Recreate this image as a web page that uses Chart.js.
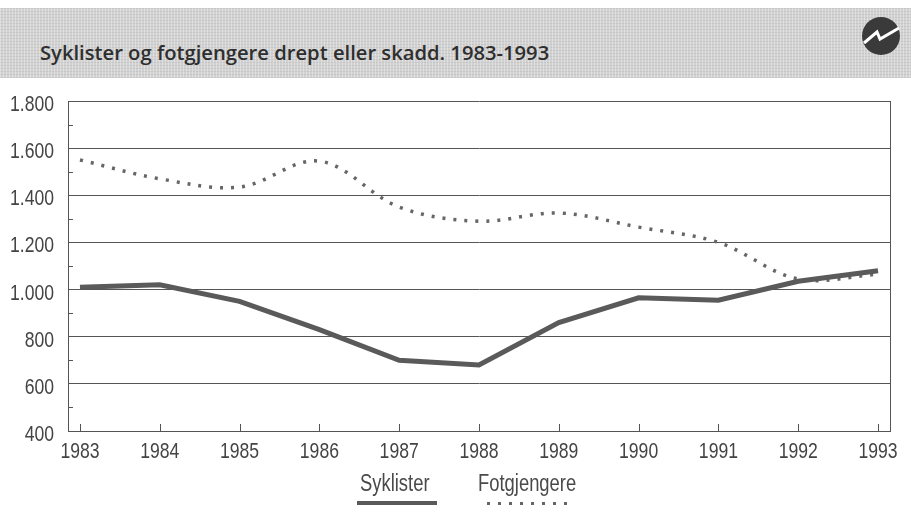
<!DOCTYPE html>
<html>
<head>
<meta charset="utf-8">
<script src="https://cdn.jsdelivr.net/npm/chart.js@4/dist/chart.umd.min.js"></script>
<style>
  html, body { margin: 0; padding: 0; background: #fff; }
  #wrap { position: relative; width: 911px; height: 520px; overflow: hidden; }
  #header {
    position: absolute; left: 0; top: 8px; width: 911px; height: 70px;
    background-color: #d2d2d2;
    background-image: repeating-linear-gradient(90deg, rgba(255,255,255,0.3) 0 1px, transparent 1px 3px),
                      repeating-linear-gradient(0deg, rgba(0,0,0,0.06) 0 1px, transparent 1px 3px);
  }
  #title {
    position: absolute; left: 40px; top: 42px; line-height: 20px; white-space: nowrap;
    font-family: "Open Sans", sans-serif; font-weight: 600; font-size: 20.2px; color: #2e2e2e;
  }
  #logo { position: absolute; left: 862px; top: 17px; }
  #chart { position: absolute; left: 0; top: 0; }
  .leg { position: absolute; top: 472px; line-height: 23px; white-space: nowrap;
         font-family: "Liberation Sans", sans-serif; font-size: 23px; color: #4a4a4a;
         transform: scaleX(0.8); transform-origin: left top; }
  #legA { left: 360px; }
  #legB { left: 478px; }
  #barA { position: absolute; left: 357px; top: 501px; width: 80px; height: 4px; background: #5a5a5a; }
  #barB { position: absolute; left: 487px; top: 502px; width: 80px; height: 3px;
          background-image: repeating-linear-gradient(90deg, #666 0 3px, transparent 3px 11px); }
</style>
</head>
<body>
<div id="wrap">
  <div id="header"></div>
  <div id="title">Syklister og fotgjengere drept eller skadd. 1983-1993</div>
  <svg id="logo" width="38" height="38" viewBox="0 0 38 38">
    <circle cx="19" cy="19" r="19" fill="#3a3a3a"/>
    <polyline points="2,26 15,15 18,22 37,11" fill="none" stroke="#fff" stroke-width="3"/>
  </svg>
  <canvas id="chart" width="911" height="520"></canvas>
  <div class="leg" id="legA">Syklister</div>
  <div id="barA"></div>
  <div class="leg" id="legB">Fotgjengere</div>
  <div id="barB"></div>
</div>
<script>
const years = [1983, 1984, 1985, 1986, 1987, 1988, 1989, 1990, 1991, 1992, 1993];
const syklister = [1010, 1020, 950, 830, 700, 680, 860, 965, 955, 1035, 1080];
const fotgjengere = [1550, 1470, 1435, 1545, 1350, 1290, 1325, 1265, 1200, 1045, 1065];
const yTicks = [400, 600, 800, 1000, 1200, 1400, 1600, 1800];

function fmt(v) {
    if (v < 1000) return String(v);
    return Math.floor(v / 1000) + '.' + String(v % 1000).padStart(3, '0');
}

// condensed tick labels, inner tick marks and right frame line
const frameTicks = {
    id: 'frameTicks',
    afterDraw(chart) {
        const ctx = chart.ctx;
        const a = chart.chartArea;
        const x = chart.scales.x, y = chart.scales.y;
        ctx.save();
        ctx.strokeStyle = '#555';
        ctx.lineWidth = 1;
        ctx.beginPath();
        years.forEach(yr => {
            const px = Math.round(x.getPixelForValue(yr)) + 0.5;
            ctx.moveTo(px, a.bottom);
            ctx.lineTo(px, a.bottom - 7);
        });
        for (let v = 500; v < 1800; v += 200) {
            const py = Math.round(y.getPixelForValue(v)) + 0.5;
            ctx.moveTo(a.left, py);
            ctx.lineTo(a.left + 5, py);
        }
        ctx.moveTo(Math.round(a.right) + 0.5, a.top);
        ctx.lineTo(Math.round(a.right) + 0.5, a.bottom);
        ctx.stroke();

        const sx = 0.8;
        ctx.font = '22px "Liberation Sans", sans-serif';
        ctx.fillStyle = '#444';
        ctx.textBaseline = 'alphabetic';
        ctx.textAlign = 'center';
        x.ticks.forEach(t => {
            const px = x.getPixelForValue(t.value);
            ctx.save();
            ctx.translate(px, a.bottom + 27);
            ctx.scale(sx, 1);
            ctx.fillText(String(t.value), 0, 0);
            ctx.restore();
        });
        ctx.textAlign = 'right';
        y.ticks.forEach(t => {
            const py = y.getPixelForValue(t.value);
            ctx.save();
            ctx.translate(a.left - 14, py + 10);
            ctx.scale(sx, 1);
            ctx.fillText(fmt(t.value), 0, 0);
            ctx.restore();
        });
        ctx.restore();
    }
};

new Chart(document.getElementById('chart'), {
    type: 'line',
    data: {
        datasets: [{
            label: 'Syklister',
            data: years.map((yr, i) => ({ x: yr, y: syklister[i] })),
            borderColor: '#5a5a5a',
            borderWidth: 5,
            pointRadius: 0,
            tension: 0
        }, {
            label: 'Fotgjengere',
            data: years.map((yr, i) => ({ x: yr, y: fotgjengere[i] })),
            borderColor: '#666',
            borderWidth: 3.5,
            borderDash: [3, 8],
            pointRadius: 0,
            tension: 0.35
        }]
    },
    options: {
        responsive: false,
        animation: false,
        layout: { padding: { top: 101, right: 21, left: 0, bottom: 0 } },
        plugins: { legend: { display: false }, tooltip: { enabled: false } },
        scales: {
            x: {
                type: 'linear',
                min: 1982.85,
                max: 1993.15,
                afterFit: s => { s.height = 89; },
                afterBuildTicks: s => { s.ticks = years.map(v => ({ value: v })); },
                grid: { display: false },
                border: { color: '#555', width: 1 },
                ticks: { display: false }
            },
            y: {
                min: 400,
                max: 1800,
                afterFit: s => { s.width = 68; },
                afterBuildTicks: s => { s.ticks = yTicks.map(v => ({ value: v })); },
                grid: { color: '#555', lineWidth: 1, drawTicks: false },
                border: { color: '#555', width: 1 },
                ticks: { display: false }
            }
        }
    },
    plugins: [frameTicks]
});
</script>
</body>
</html>
